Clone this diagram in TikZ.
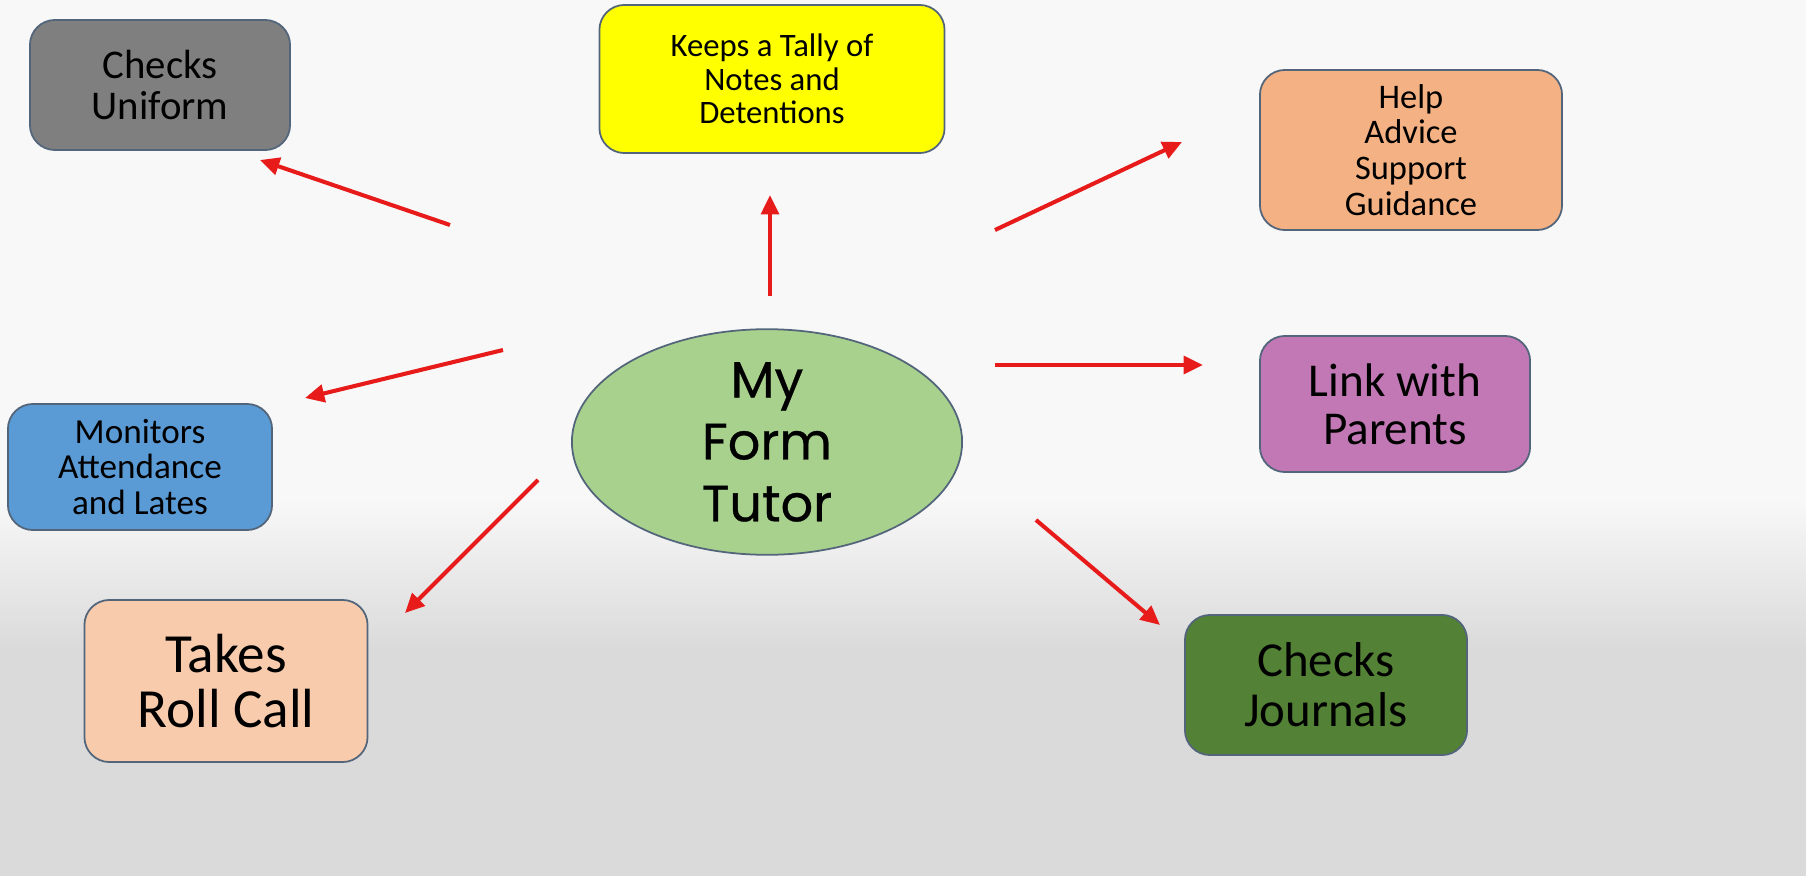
\documentclass[tikz,border=0pt]{standalone}
\usepackage{fontspec}
\setmainfont{Carlito}
\newfontfamily\comicfont[FakeBold=0.6]{Poppins}
\usetikzlibrary{arrows.meta,shapes.geometric}
\definecolor{bgtop}{HTML}{F8F8F8}
\definecolor{bgbot}{HTML}{DADADA}
\definecolor{bordercol}{HTML}{52657A}
\definecolor{cgray}{HTML}{7F7F7F}
\definecolor{cyellow}{HTML}{FFFF00}
\definecolor{corange}{HTML}{F4B183}
\definecolor{cpurple}{HTML}{C178B4}
\definecolor{cblue}{HTML}{5B9BD5}
\definecolor{cpeach}{HTML}{F8CBAD}
\definecolor{cgreen}{HTML}{538135}
\definecolor{cellipse}{HTML}{A9D18E}
\definecolor{arrred}{HTML}{E81B1B}
\begin{document}
\begin{tikzpicture}[x=0.01cm,y=-0.01cm,
  box/.style={draw=bordercol, line width=0.5pt, rounded corners=0.25cm, align=center, inner sep=0pt},
  arr/.style={draw=arrred, line width=1.15pt, -{Triangle[length=5.5pt,width=5pt]}}]
\useasboundingbox (0,0) rectangle (1806,876);
\fill[bgtop] (0,0) rectangle (1806,500);
\shade[top color=bgtop,bottom color=bgbot] (0,499) rectangle (1806,651);
\fill[bgbot] (0,650) rectangle (1806,876);

\node[box, fill=cgray, minimum width=2.6cm, minimum height=1.3cm,
  font=\fontsize{11.6}{11.6}\selectfont] (uniform) at (160,85) {Checks\\Uniform};
\node[box, fill=cyellow, minimum width=3.45cm, minimum height=1.48cm,
  font=\fontsize{9.3}{9.6}\selectfont] (tally) at (772,79) {Keeps a Tally of\\Notes and\\Detentions};
\node[box, fill=corange, minimum width=3.02cm, minimum height=1.6cm,
  font=\fontsize{9.8}{10.2}\selectfont] (help) at (1411,150) {Help\\Advice\\Support\\Guidance};
\node[box, fill=cpurple, minimum width=2.7cm, minimum height=1.36cm,
  font=\fontsize{13.4}{13.7}\selectfont] (parents) at (1395,404) {Link with\\Parents};
\node[box, fill=cblue, minimum width=2.64cm, minimum height=1.26cm,
  font=\fontsize{10}{10.1}\selectfont] (attend) at (140,467) {Monitors\\Attendance\\and Lates};
\node[box, fill=cpeach, minimum width=2.83cm, minimum height=1.62cm,
  font=\fontsize{15.7}{15.7}\selectfont] (roll) at (226,681) {Takes\\Roll Call};
\node[box, fill=cgreen, minimum width=2.82cm, minimum height=1.4cm,
  font=\fontsize{13.9}{14.2}\selectfont] (journals) at (1326,685) {Checks\\Journals};
\node[ellipse, draw=bordercol, line width=0.5pt, fill=cellipse, align=center, inner sep=0pt,
  minimum width=3.9cm, minimum height=2.1cm,
  font=\comicfont\fontsize{14.5}{17.6}\selectfont] (tutor) at (767,442) {My\\Form\\Tutor};

\coordinate (a1s) at (450,225); \coordinate (a1e) at (260,160);
\coordinate (a2s) at (770,296); \coordinate (a2e) at (770,195);
\coordinate (a3s) at (995,230); \coordinate (a3e) at (1182,142);
\coordinate (a4s) at (995,365); \coordinate (a4e) at (1203,365);
\coordinate (a5s) at (503,350); \coordinate (a5e) at (305,398);
\coordinate (a6s) at (538,480); \coordinate (a6e) at (405,613);
\coordinate (a7s) at (1036,520); \coordinate (a7e) at (1160,625);
\foreach \i in {1,...,7} {\draw[arr] (a\i s) -- (a\i e);}
\end{tikzpicture}
\end{document}
